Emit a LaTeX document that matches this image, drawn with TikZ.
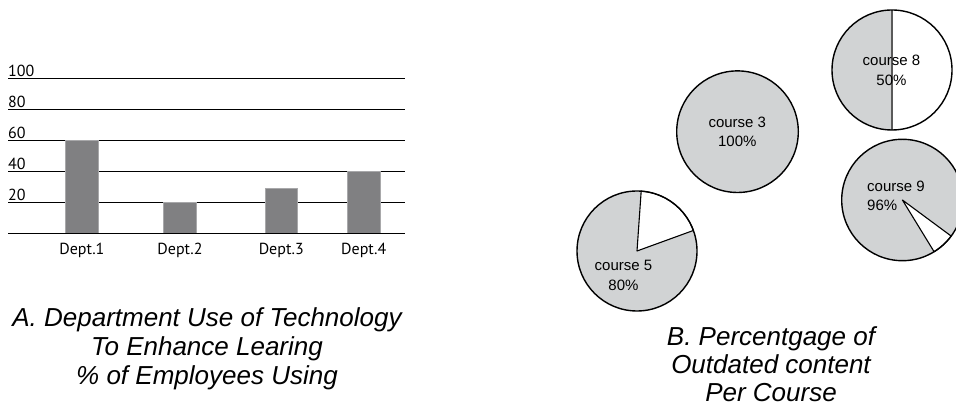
\documentclass[tikz,border=0pt]{standalone}
\usepackage{fontspec}
\setmainfont{Liberation Sans}
\newfontfamily\axisfont{PT Sans}
\definecolor{barfill}{HTML}{808082}
\definecolor{baredge}{HTML}{A8A8AA}
\definecolor{piefill}{HTML}{D1D3D4}
\definecolor{divider}{HTML}{5A5A5A}
\begin{document}
\begin{tikzpicture}[x=1pt,y=1pt,
  gridline/.style={line width=1.2pt, black},
  bar/.style={fill=barfill, draw=baredge, line width=0.7pt},
  tick/.style={font=\axisfont\fontsize{16}{16}\selectfont, anchor=base west, inner sep=0pt},
  dept/.style={font=\axisfont\fontsize{16}{18}\selectfont, anchor=base, inner sep=0pt},
  % multi-line nodes: the base anchor sits on the last line
  caption/.style={font=\itshape\fontsize{26}{29}\selectfont, align=center, anchor=base, inner sep=0pt},
  pieedge/.style={draw=black, line width=1.4pt},
  wedge/.style={fill=white, draw=black, line width=1.1pt, line join=round},
  pielabel/.style={font=\fontsize{15}{19.3}\selectfont, align=center, anchor=base, inner sep=0pt},
]
\useasboundingbox (0,0) rectangle (956,406);

% ---------- bar chart: grid, values, bars ----------
\foreach \v in {0,20,40,60,80,100}{
  \draw[gridline] (8,172.3+1.55*\v) coordinate (g\v) -- (405,172.3+1.55*\v);
}
\foreach \v in {20,40,60,80,100}{
  \node[tick] (t\v) at ([yshift=2.3pt]g\v) {\v};
}
\fill[bar] (65.7,172.3) rectangle (98,265.3);
\fill[bar] (163.3,172.3) rectangle (196.7,203.3);
\fill[bar] (265,172.3) rectangle (297.7,217.3);
\fill[bar] (347.3,172.3) rectangle (380,234.3);
\draw[gridline] (g0) -- (405,172.3);

\node[dept] (d1) at (81.9,151) {Dept.1};
\node[dept] (d2) at (180,151) {Dept.2};
\node[dept] (d3) at (281.3,151) {Dept.3};
\node[dept] (d4) at (363.7,151) {Dept.4};

\node[caption] (capA) at (207,21) {A. Department Use of Technology\\To Enhance Learing\\\% of Employees Using};

% ---------- pies ----------
% course 8: half shaded
\coordinate (c8) at (892,336);
\fill[piefill] (c8) -- ++(90:60) arc[start angle=90, end angle=270, radius=60] -- cycle;
\draw[divider, line width=1.5pt] ([yshift=60pt]c8) -- ([yshift=-60pt]c8);
\draw[pieedge] (c8) circle[radius=60];

% course 3: full
\coordinate (c3) at (737.5,274.3);
\filldraw[fill=piefill, pieedge] (c3) circle[radius=60.8];

% course 5: 80%
\coordinate (c5) at (637,155);
\fill[piefill] (c5) circle[radius=60];
\filldraw[wedge] (c5) -- ++(20:60) arc[start angle=20, end angle=86, radius=60] -- cycle;
\draw[pieedge] (c5) circle[radius=60];

% course 9: 96%
\coordinate (c9) at (902.4,206);
\fill[piefill] (c9) circle[radius=60.7];
\filldraw[wedge] (c9) -- ++(-58.5:60.7) arc[start angle=-58.5, end angle=-36.5, radius=60.7] -- cycle;
\draw[pieedge] (c9) circle[radius=60.7];

\node[pielabel] (l8) at (891.5,320.7) {course 8\\50\%};
\node[pielabel] (l3) at (737.3,259) {course 3\\100\%};
\node[pielabel] (l5) at (623.5,115.7) {course 5\\80\%};
\node[pielabel, align=left, anchor=base west] (l9) at (867,195.4) {course 9\\96\%};

\node[caption, font=\itshape\fontsize{26}{28}\selectfont] (capB) at (771,4.3) {B. Percentgage of\\Outdated content\\Per Course};
\end{tikzpicture}
\end{document}
